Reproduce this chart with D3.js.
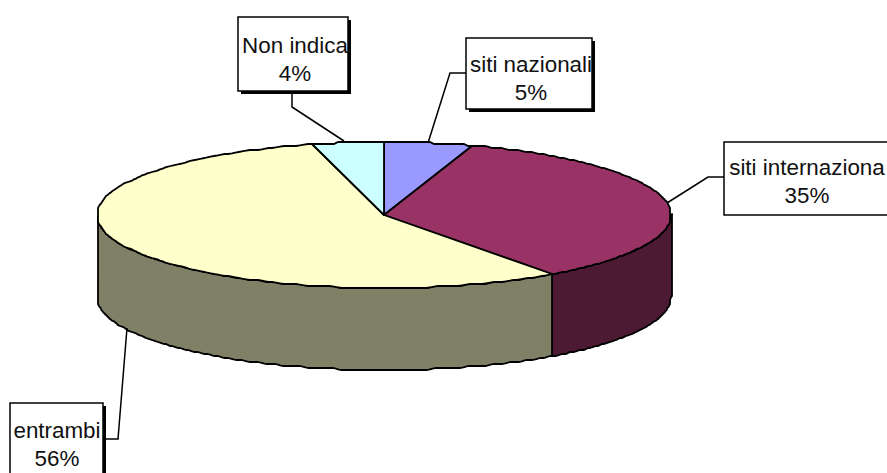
<!DOCTYPE html>
<html><head><meta charset="utf-8">
<script src="https://cdn.jsdelivr.net/npm/d3@7"></script>
<style>html,body{margin:0;padding:0;background:#fff;overflow:hidden}svg{display:block}</style>
</head><body><svg id="c" width="887" height="473"></svg>
<script>
const categories = ["siti nazionali", "siti internaziona", "entrambi", "Non indica"];
const values = [5, 35, 56, 4];
const percentLabels = ["5%", "35%", "56%", "4%"];
const topColors = ["#9999FF", "#993366", "#FFFFCC", "#CCFFFF"];
const sideColors = ["#4D4D80", "#4D1A33", "#808066", "#668080"];
const labelBoxes = [
  {x:466, y:38, w:126, h:71, shadow:3, tx:531, ty:72},
  {x:724, y:142, w:170, h:73, shadow:0, tx:807, ty:175},
  {x:10, y:403, w:93, h:80, shadow:3, tx:57, ty:438},
  {x:238, y:17, w:110, h:74, shadow:3, tx:295, ty:53}
];
const leaders = [
  [[466,73],[450,73],[428,143]],
  [[724,177],[708,177],[667,203]],
  [[103,439],[118,439],[127,328]],
  [[292,91],[292,107],[344,141]]
];
const cx = 384, cy = 215, rx = 287, ry = 73, depth = 82, grid = 2;
const svg = d3.select("#c");
const arcs = d3.pie().sort(null).value(d => d)(values);
const xE = d3.scaleLinear().domain([-1,1]).range([cx-rx, cx+rx]);
const yE = d3.scaleLinear().domain([-1,1]).range([cy-ry, cy+ry]);
const snap = v => Math.round(v/grid)*grid;
const pt = (a, dy=0) => [snap(xE(Math.sin(a))), snap(yE(-Math.cos(a))) + dy];
const samples = (a0, a1, dy=0) => {
  const raw = d3.range(0, 241).map(i => pt(a0 + (a1-a0)*i/240, dy));
  const ps = raw.filter((p,i) => i === 0 || p[0] !== raw[i-1][0] || p[1] !== raw[i-1][1]);
  // soften the stair steps into the reference's slight ripple, keeping the end points
  return ps.map((p,i) => (i === 0 || i === ps.length-1) ? p
    : [(ps[i-1][0]+p[0]+ps[i+1][0])/3, (ps[i-1][1]+p[1]+ps[i+1][1])/3]);
};
const line = d3.line();
arcs.forEach((d,i) => {
  const a0 = Math.max(d.startAngle, Math.PI/2), a1 = Math.min(d.endAngle, 3*Math.PI/2);
  if (a1 <= a0) return;
  const p = samples(a0,a1).concat(samples(a0,a1,depth).reverse());
  svg.append("path").attr("d", line(p)+"Z").attr("fill", sideColors[i]).attr("stroke","#000").attr("stroke-width",1.8).attr("stroke-linejoin","round");
});
arcs.forEach((d,i) => {
  const p = [[cx,cy]].concat(samples(d.startAngle,d.endAngle));
  svg.append("path").attr("d", line(p)+"Z").attr("fill", topColors[i]).attr("stroke","#000").attr("stroke-width",1.8).attr("stroke-linejoin","round");
});
leaders.forEach(l => svg.append("path").attr("d", line(l)).attr("fill","none").attr("stroke","#000").attr("stroke-width",1.5));
labelBoxes.forEach((b,i) => {
  const g = svg.append("g");
  if (b.shadow) g.append("rect").attr("x",b.x+b.shadow).attr("y",b.y+b.shadow).attr("width",b.w).attr("height",b.h).attr("fill","#000");
  g.append("rect").attr("x",b.x).attr("y",b.y).attr("width",b.w).attr("height",b.h).attr("fill","#fff").attr("stroke","#000").attr("stroke-width",1.5);
  [categories[i], percentLabels[i]].forEach((t,j) => {
    g.append("text").attr("x",b.tx).attr("y",b.ty+j*27.5).attr("text-anchor","middle")
     .attr("font-family","'Liberation Sans',Arial,sans-serif").attr("font-size",22.4).attr("fill","#111").text(t);
  });
});
</script></body></html>
